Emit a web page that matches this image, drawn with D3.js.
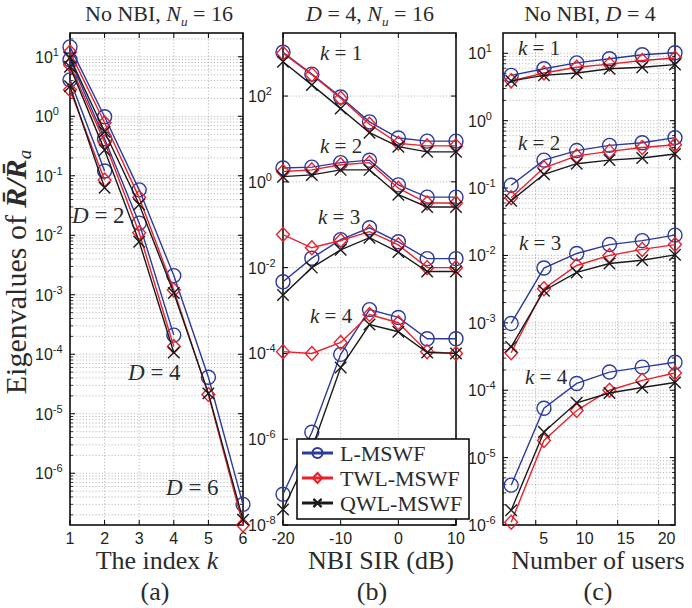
<!DOCTYPE html>
<html>
<head>
<meta charset="utf-8">
<script src="https://cdn.jsdelivr.net/npm/d3@7"></script>
<style>
body { margin: 0; background: #fff; }
.tl { font-family: "Liberation Sans", Arial, sans-serif; font-size: 16px; fill: #231f20; }
.serif { font-family: "Liberation Serif", "Times New Roman", serif; fill: #2b2b2b; }
</style>
</head>
<body>
<svg id="fig" width="692" height="608"></svg>
<script>
// ---- data ----
var kIndex = [1, 2, 3, 4, 5, 6];
// (a) eigenvalues vs index k, No NBI, Nu = 16
var aD2_L   = [4.1, 0.12];
var aD2_TWL = [2.8, 0.085];
var aD2_QWL = [3.2, 0.063];
var aD4_L   = [8.9, 0.42, 0.016, 2.1e-4];
var aD4_TWL = [7.3, 0.37, 0.011, 1.35e-4];
var aD4_QWL = [6.8, 0.27, 0.0078, 1.07e-4];
var aD6_L   = [14.7, 0.98, 0.058, 2.1e-3, 4.1e-5, 3.0e-7];
var aD6_TWL = [12, 0.78, 0.043, 1.2e-3, 2.1e-5, 1.35e-7];
var aD6_QWL = [9.6, 0.55, 0.033, 1.07e-3, 2.2e-5, 1.65e-7];

// (b) eigenvalues vs NBI SIR, D = 4, Nu = 16
var sirDb = [-20, -15, -10, -5, 0, 5, 10];
var bK1_L   = [1050, 324, 95, 25, 10.5, 8.9, 8.9];
var bK1_TWL = [1000, 316, 89, 22, 7.9, 6.9, 6.9];
var bK1_QWL = [630, 182, 51, 14, 6.6, 5.0, 5.0];
var bK2_L   = [2.1, 2.2, 2.8, 3.2, 0.85, 0.44, 0.44];
var bK2_TWL = [1.74, 1.9, 2.5, 2.8, 0.71, 0.32, 0.32];
var bK2_QWL = [1.32, 1.45, 1.9, 1.9, 0.5, 0.26, 0.26];
var bK3_L   = [4.7e-3, 0.0166, 0.045, 0.085, 0.040, 0.0162, 0.0162];
var bK3_TWL = [0.059, 0.029, 0.043, 0.069, 0.034, 0.010, 0.010];
var bK3_QWL = [2.3e-3, 0.010, 0.026, 0.050, 0.023, 8.1e-3, 8.1e-3];
var bK4_L   = [5.2e-8, 1.45e-6, 9.5e-5, 1.05e-3, 6.9e-4, 2.2e-4, 2.2e-4];
var bK4_TWL = [1.1e-4, 1.0e-4, 1.8e-4, 8.1e-4, 5.2e-4, 1.1e-4, 1.0e-4];
var bK4_QWL = [2.3e-8, 6e-7, 4.7e-5, 4.7e-4, 3.2e-4, 1.05e-4, 1.0e-4];

// (c) eigenvalues vs number of users, No NBI, D = 4
var users = [2, 6, 10, 14, 18, 22];
var cK1_L   = [4.7, 5.9, 7.2, 8.3, 9.5, 10.2];
var cK1_TWL = [3.9, 5.1, 6.2, 6.9, 7.8, 8.5];
var cK1_QWL = [3.9, 4.7, 5.1, 5.9, 6.2, 6.8];
var cK2_L   = [0.11, 0.26, 0.36, 0.43, 0.47, 0.56];
var cK2_TWL = [0.072, 0.20, 0.30, 0.35, 0.40, 0.44];
var cK2_QWL = [0.065, 0.16, 0.23, 0.26, 0.28, 0.32];
var cK3_L   = [9.8e-4, 6.5e-3, 0.0107, 0.0145, 0.0166, 0.020];
var cK3_TWL = [3.6e-4, 3.2e-3, 7.1e-3, 0.010, 0.0123, 0.0145];
var cK3_QWL = [4.4e-4, 3.0e-3, 5.6e-3, 7.6e-3, 8.5e-3, 0.0102];
var cK4_L   = [3.9e-6, 5.4e-5, 1.26e-4, 1.86e-4, 2.2e-4, 2.6e-4];
var cK4_TWL = [1.1e-6, 1.8e-5, 5.0e-5, 1.0e-4, 1.4e-4, 1.8e-4];
var cK4_QWL = [1.66e-6, 2.4e-5, 6.5e-5, 9.1e-5, 1.1e-4, 1.3e-4];

var methods = ["L-MSWF", "TWL-MSWF", "QWL-MSWF"];
var colors = ["#2b3a9c", "#e8212b", "#1a1a1a"];
var markers = ["circle", "diamond", "cross"];

// ---- layout ----
var plotTop = 33, plotBottom = 525;
var svg = d3.select("#fig");

function markerPath(type, s) {
  if (type == "circle") {
    return "M" + s + ",0A" + s + "," + s + " 0 1,1 " + (-s) + ",0A" + s + "," + s + " 0 1,1 " + s + ",0Z";
  }
  if (type == "diamond") {
    var w = s * 0.92;
    return "M0," + (-s) + "L" + w + ",0L0," + s + "L" + (-w) + ",0Z";
  }
  var c = s * 0.82;
  return "M" + (-c) + "," + (-c) + "L" + c + "," + c + "M" + (-c) + "," + c + "L" + c + "," + (-c);
}

function drawPanel(p) {
  var x = d3.scaleLinear().domain(p.xDomain).range([p.left, p.right]);
  var y = d3.scaleLog().domain(p.yDomain).range([plotBottom, plotTop]);
  var g = svg.append("g");
  var grid = g.append("g").attr("stroke", "#9a9a9a").attr("stroke-width", 0.8)
    .attr("stroke-dasharray", "1,2.2");

  // minor grid (log)
  if (p.minor) {
    var lo = Math.floor(Math.log10(p.yDomain[0])), hi = Math.ceil(Math.log10(p.yDomain[1]));
    var minors = [];
    for (var e = lo; e <= hi; e++) {
      for (var m = 2; m <= 9; m++) {
        var v = m * Math.pow(10, e);
        if (v > p.yDomain[0] && v < p.yDomain[1]) minors.push(v);
      }
    }
    grid.selectAll(null).data(minors).enter().append("line")
      .attr("x1", p.left).attr("x2", p.right)
      .attr("y1", function(d){ return y(d); }).attr("y2", function(d){ return y(d); });
    g.selectAll(null).data(minors).enter().append("path")
      .attr("d", function(d){ var yy = y(d);
        return "M" + p.left + "," + yy + "h3M" + p.right + "," + yy + "h-3"; })
      .attr("stroke", "#000").attr("stroke-width", 0.8);
  }
  var yMaj = p.yTicks.map(function(e){ return Math.pow(10, e); });
  grid.selectAll(null).data(yMaj).enter().append("line")
    .attr("x1", p.left).attr("x2", p.right)
    .attr("y1", function(d){ return y(d); }).attr("y2", function(d){ return y(d); });
  grid.selectAll(null).data(p.xTicks).enter().append("line")
    .attr("y1", plotTop).attr("y2", plotBottom)
    .attr("x1", function(d){ return x(d); }).attr("x2", function(d){ return x(d); });

  // major ticks
  g.selectAll(null).data(yMaj).enter().append("path")
    .attr("d", function(d){ var yy = y(d);
      return "M" + p.left + "," + yy + "h5M" + p.right + "," + yy + "h-5"; })
    .attr("stroke", "#000").attr("stroke-width", 1);
  g.selectAll(null).data(p.xTicks).enter().append("path")
    .attr("d", function(d){ var xx = x(d);
      return "M" + xx + "," + plotBottom + "v-5M" + xx + "," + plotTop + "v5"; })
    .attr("stroke", "#000").attr("stroke-width", 1);

  // tick labels
  var yl = g.selectAll(null).data(p.yTicks).enter().append("text")
    .attr("class", "tl")
    .attr("x", p.left - 35)
    .attr("y", function(e){ return y(Math.pow(10, e)) + 6; });
  yl.append("tspan").text("10");
  yl.append("tspan").attr("dy", -7).attr("font-size", 11).text(function(e){ return e; });

  g.selectAll(null).data(p.xTicks).enter().append("text")
    .attr("class", "tl")
    .attr("x", function(d){ return x(d) + (p.labelShift || 0); })
    .attr("y", plotBottom + 19)
    .attr("text-anchor", "middle")
    .text(function(d){ return d; });

  // box
  g.append("rect").attr("x", p.left).attr("y", plotTop)
    .attr("width", p.right - p.left).attr("height", plotBottom - plotTop)
    .attr("fill", "none").attr("stroke", "#000").attr("stroke-width", 1.5);

  // series
  var line = d3.line().x(function(d){ return x(d[0]); }).y(function(d){ return y(d[1]); });
  p.series.forEach(function(s) {
    var pts = s.values.map(function(v, i){ return [p.xs[i], v]; });
    var col = colors[s.m];
    g.append("path").datum(pts).attr("d", line)
      .attr("fill", "none").attr("stroke", col).attr("stroke-width", 1.4);
    g.selectAll(null).data(pts).enter().append("path")
      .attr("transform", function(d){ return "translate(" + x(d[0]) + "," + y(d[1]) + ")"; })
      .attr("d", markerPath(markers[s.m], 7))
      .attr("fill", "none").attr("stroke", col).attr("stroke-width", 1.4);
  });
  return g;
}

function grp(L, T, Q) {
  return [{m: 0, values: L}, {m: 1, values: T}, {m: 2, values: Q}];
}

drawPanel({
  left: 70, right: 243, xDomain: [1, 6], xTicks: kIndex, xs: kIndex,
  yDomain: [Math.pow(10, -6.87), Math.pow(10, 1.4)], yTicks: [1, 0, -1, -2, -3, -4, -5, -6], minor: true,
  series: [].concat(grp(aD2_L, aD2_TWL, aD2_QWL), grp(aD4_L, aD4_TWL, aD4_QWL), grp(aD6_L, aD6_TWL, aD6_QWL))
});
drawPanel({
  left: 283, right: 456, xDomain: [-20, 10], xTicks: [-20, -10, 0, 10], xs: sirDb,
  yDomain: [1e-8, Math.pow(10, 3.47)], yTicks: [2, 0, -2, -4, -6, -8], minor: false,
  series: [].concat(grp(bK1_L, bK1_TWL, bK1_QWL), grp(bK2_L, bK2_TWL, bK2_QWL),
                    grp(bK3_L, bK3_TWL, bK3_QWL), grp(bK4_L, bK4_TWL, bK4_QWL))
});
drawPanel({
  left: 503, right: 675, xDomain: [1, 22], xTicks: [5, 10, 15, 20], xs: users, labelShift: 8,
  yDomain: [1e-6, 20], yTicks: [1, 0, -1, -2, -3, -4, -5, -6], minor: true,
  series: [].concat(grp(cK1_L, cK1_TWL, cK1_QWL), grp(cK2_L, cK2_TWL, cK2_QWL),
                    grp(cK3_L, cK3_TWL, cK3_QWL), grp(cK4_L, cK4_TWL, cK4_QWL))
});

// ---- titles ----
function richText(x, y, size, parts, anchor) {
  var t = svg.append("text").attr("class", "serif").attr("x", x).attr("y", y)
    .attr("font-size", size).attr("text-anchor", anchor || "start");
  parts.forEach(function(p) {
    var s = t.append("tspan").text(p.t);
    if (p.i) s.attr("font-style", "italic");
    if (p.sub) s.attr("font-size", size * 0.6).attr("dy", 5);
    if (p.up) s.attr("dy", -5);
  });
  return t;
}
richText(159, 21, 22, [{t: "No NBI, "}, {t: "N", i: 1}, {t: "u", i: 1, sub: 1}, {t: " = 16", up: 1}], "middle");
richText(370, 21, 22, [{t: "D", i: 1}, {t: " = 4, "}, {t: "N", i: 1}, {t: "u", i: 1, sub: 1}, {t: " = 16", up: 1}], "middle");
richText(590, 21, 22, [{t: "No NBI, "}, {t: "D", i: 1}, {t: " = 4"}], "middle");

// curve annotations
richText(72, 223, 23, [{t: "D", i: 1}, {t: " = 2"}]);
richText(128, 380, 23, [{t: "D", i: 1}, {t: " = 4"}]);
richText(166, 495, 23, [{t: "D", i: 1}, {t: " = 6"}]);
var kLabB = [[320, 60, 1], [320, 153, 2], [318, 224, 3], [310, 323, 4]];
kLabB.forEach(function(d){ richText(d[0], d[1], 21, [{t: "k", i: 1}, {t: " = " + d[2]}]); });
var kLabC = [[518, 55, 1], [518, 150, 2], [519, 250, 3], [525, 384, 4]];
kLabC.forEach(function(d){ richText(d[0], d[1], 21, [{t: "k", i: 1}, {t: " = " + d[2]}]); });

// axis labels
richText(157, 569, 26, [{t: "The index "}, {t: "k", i: 1}], "middle");
richText(381, 569, 26, [{t: "NBI SIR (dB)"}], "middle");
richText(598, 569, 26, [{t: "Number of users"}], "middle");
richText(155, 600, 26, [{t: "(a)"}], "middle");
richText(372, 600, 26, [{t: "(b)"}], "middle");
richText(598, 600, 26, [{t: "(c)"}], "middle");

var ylab = svg.append("text").attr("class", "serif")
  .attr("transform", "translate(26,272) rotate(-90)")
  .attr("font-size", 30).attr("text-anchor", "middle");
ylab.append("tspan").text("Eigenvalues of ");
ylab.append("tspan").attr("font-weight", "bold").attr("font-style", "italic").text("R\u0304/R\u0304");
ylab.append("tspan").attr("font-style", "italic").attr("font-size", 19).attr("dy", 5).text("a");

// ---- legend ----
var leg = svg.append("g");
leg.append("rect").attr("x", 297).attr("y", 439).attr("width", 172).attr("height", 80)
  .attr("fill", "#fff").attr("stroke", "#000").attr("stroke-width", 1.5);
methods.forEach(function(name, i) {
  var yy = 453 + i * 25;
  leg.append("line").attr("x1", 302).attr("x2", 333).attr("y1", yy).attr("y2", yy)
    .attr("stroke", colors[i]).attr("stroke-width", 3);
  leg.append("path").attr("transform", "translate(317.5," + yy + ")")
    .attr("d", markerPath(markers[i], 5))
    .attr("fill", "none").attr("stroke", colors[i]).attr("stroke-width", 2.2);
  leg.append("text").attr("class", "serif").attr("x", 340).attr("y", yy + 7.5)
    .attr("font-size", 22).text(name);
});
</script>
</body>
</html>
